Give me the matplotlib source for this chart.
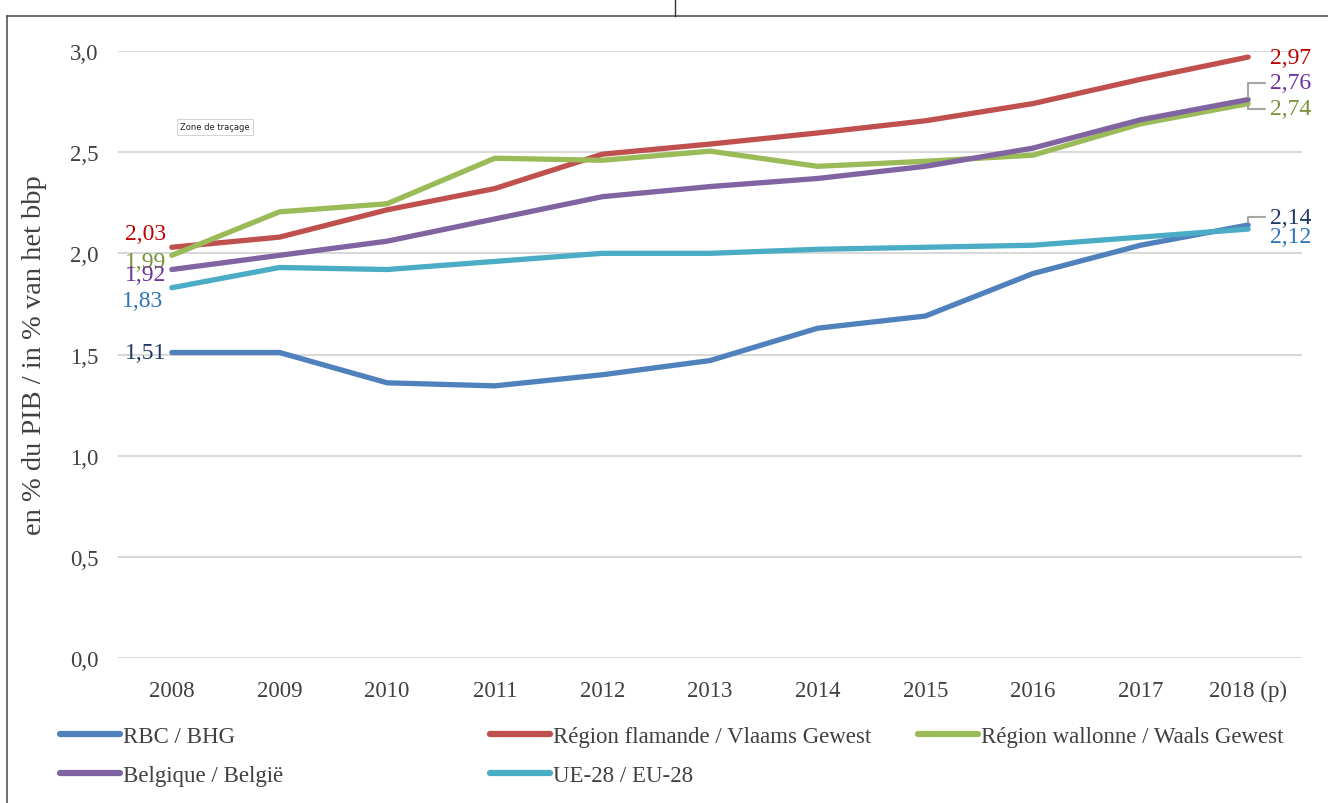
import matplotlib
matplotlib.use("Agg")
import matplotlib.pyplot as plt
from matplotlib.lines import Line2D

# ------------------------------------------------------------------ data
years = ["2008", "2009", "2010", "2011", "2012", "2013", "2014", "2015",
         "2016", "2017", "2018 (p)"]
rbc = [1.51, 1.51, 1.36, 1.345, 1.40, 1.47, 1.63, 1.69, 1.90, 2.04, 2.14]
flamande = [2.03, 2.08, 2.215, 2.32, 2.49, 2.54, 2.595, 2.655, 2.74, 2.86, 2.97]
wallonne = [1.99, 2.205, 2.245, 2.47, 2.46, 2.505, 2.43, 2.455, 2.485, 2.64, 2.74]
belgique = [1.92, 1.99, 2.06, 2.17, 2.28, 2.33, 2.37, 2.43, 2.52, 2.66, 2.76]
eu28 = [1.83, 1.93, 1.92, 1.96, 2.00, 2.00, 2.02, 2.03, 2.04, 2.08, 2.12]

names = ["RBC / BHG", "Région flamande / Vlaams Gewest",
         "Région wallonne / Waals Gewest", "Belgique / België", "UE-28 / EU-28"]
series = [rbc, flamande, wallonne, belgique, eu28]
colors = ["#4F81BD", "#C0504D", "#9BBB59", "#8064A2", "#4BACC6"]
label_colors = ["#1F3864", "#C00000", "#77933C", "#7030A0", "#2E75B6"]

yticks = [0.0, 0.5, 1.0, 1.5, 2.0, 2.5, 3.0]

plt.rcParams["font.family"] = ["Liberation Serif", "DejaVu Serif"]

fig = plt.figure(figsize=(13.28, 8.04), dpi=100)
ax = fig.add_axes([118 / 1328, 1 - 659 / 804, (1302 - 118) / 1328, (659 - 52) / 804])

x = list(range(len(years)))
for vals, col, name in zip(series, colors, names):
    ax.plot(x, vals, color=col, lw=3.8, solid_capstyle="round", label=name)

ax.set_xlim(-0.5, len(years) - 0.5)
ax.set_ylim(0, 3.0)
ax.set_yticks(yticks)
ax.set_yticklabels([f"{v:.1f}".replace(".", ",") for v in yticks])
ax.set_xticks(x)
ax.set_xticklabels(years)
ax.tick_params(length=0, labelsize=16.5, colors="#404040", pad=14)
ax.tick_params(axis="x", pad=16)
ax.grid(axis="y", color="#D9D9D9", lw=1.5)
ax.set_axisbelow(True)
for s in ax.spines.values():
    s.set_visible(False)
ax.set_ylabel("en % du PIB / in % van het bbp", fontsize=20.5, color="#404040")
ax.yaxis.set_label_coords(-(118 - 47) / (1302 - 118), 0.5)

# ------------------------------------------------------------------ data labels
fmt = lambda v: f"{v:.2f}".replace(".", ",")
left_off = [(-6, 0), (-6, 14), (-6, -6), (-6, -5), (-9, -13)]
for vals, lc, (dx, dy) in zip(series, label_colors, left_off):
    ax.annotate(fmt(vals[0]), xy=(0, vals[0]), xytext=(dx, dy),
                textcoords="offset pixels", ha="right", va="center",
                fontsize=17, color=lc)

right_off = [(22, 8), (22, 0), (22, -5), (22, 17), (22, -7)]
leader = [True, False, True, True, False]
last = len(years) - 1
for vals, lc, (dx, dy), ld in zip(series, label_colors, right_off, leader):
    kw = {}
    if ld:
        kw["arrowprops"] = dict(arrowstyle="-", color="#A6A6A6", lw=1.5,
                                shrinkA=2, shrinkB=2,
                                connectionstyle="angle,angleA=0,angleB=90,rad=0")
    ax.annotate(fmt(vals[last]), xy=(last, vals[last]), xytext=(dx, dy),
                textcoords="offset pixels", ha="left", va="center",
                fontsize=17, color=lc, **kw)

# ------------------------------------------------------------------ legend (three columns)
col_x = [60 / 1328, 490 / 1328, 918 / 1328]
groups = [[0, 3], [1, 4], [2]]
for cx, grp in zip(col_x, groups):
    handles = [Line2D([], [], color=colors[i], lw=4.5, solid_capstyle="round")
               for i in grp]
    leg = fig.legend(handles, [names[i] for i in grp], loc="upper left",
                     bbox_to_anchor=(cx, 1 - 727 / 804), frameon=False,
                     fontsize=16.5, handlelength=2.6, handletextpad=0.15,
                     labelspacing=0.8, borderpad=0, borderaxespad=0)
    for t in leg.get_texts():
        t.set_color("#404040")

# ------------------------------------------------------------------ frame + tooltip
fig.add_artist(Line2D([7 / 1328, 1], [1 - 17 / 804, 1 - 17 / 804], color="#555555", lw=1.2))
fig.add_artist(Line2D([7 / 1328, 7 / 1328], [0, 1 - 17 / 804], color="#555555", lw=1.2))
fig.add_artist(Line2D([675 / 1328, 675 / 1328], [1 - 17 / 804, 1], color="#333333", lw=1))
fig.text(215 / 1328, 1 - 128 / 804, "Zone de traçage", fontsize=6,
         family="DejaVu Sans", ha="center", va="center", color="#222222",
         bbox=dict(boxstyle="square,pad=0.4", fc="white", ec="#CCCCCC", lw=0.6))

fig.savefig("out.png", dpi=100)
